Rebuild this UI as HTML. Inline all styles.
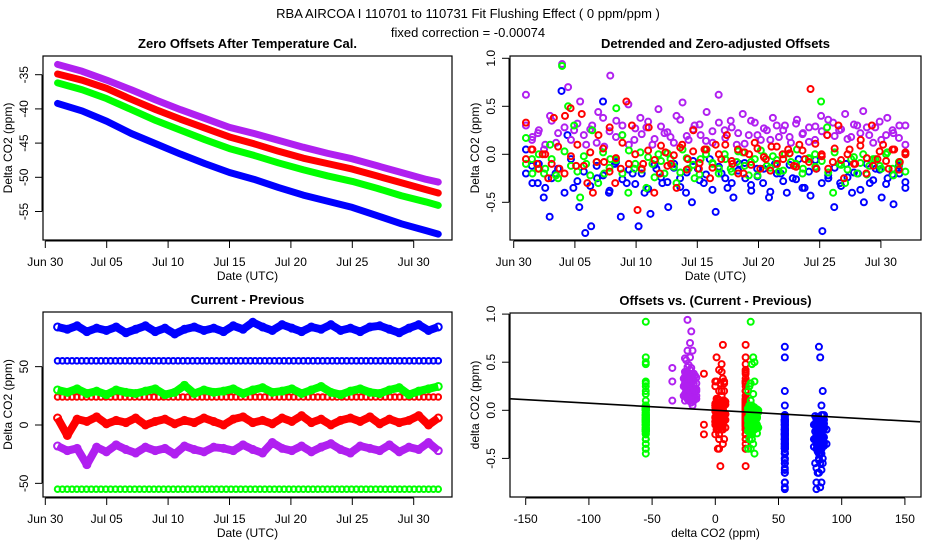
<!DOCTYPE html>
<html><head><meta charset="utf-8"><style>
body{margin:0;background:#fff}
svg{display:block;font-family:"Liberation Sans",sans-serif}
</style></head><body>
<svg id="c" width="936" height="540" viewBox="0 0 936 540" xmlns="http://www.w3.org/2000/svg">
<rect width="936" height="540" fill="#fff"/>
<text x="468" y="18" text-anchor="middle" font-size="13">RBA   AIRCOA I   110701 to 110731   Fit Flushing Effect ( 0 ppm/ppm )</text>
<text x="468" y="37" text-anchor="middle" font-size="13">fixed correction = -0.00074</text>
</svg>
<script>
// ---- Panel 1: Zero offsets (values at days) ----
const p1Days = [1,3,5,7,9,11,13,15,17,19,21,23,25,27,29,31,32];
const p1Blue = [-39.2,-40.3,-41.8,-43.6,-45.1,-46.6,-48.0,-49.3,-50.3,-51.5,-52.6,-53.5,-54.4,-55.6,-56.8,-57.8,-58.3];
const p1Green = [-36.2,-37.2,-38.5,-40.1,-41.7,-43.1,-44.5,-45.8,-46.8,-47.9,-48.9,-49.8,-50.6,-51.6,-52.7,-53.6,-54.1];
const p1Red = [-34.9,-35.8,-37.0,-38.6,-40.1,-41.5,-42.8,-44.1,-45.1,-46.2,-47.2,-48.0,-48.8,-49.8,-50.8,-51.8,-52.3];
const p1Purple = [-33.5,-34.5,-35.8,-37.2,-38.7,-40.1,-41.4,-42.7,-43.6,-44.6,-45.6,-46.5,-47.3,-48.3,-49.3,-50.3,-50.7];
const p1YTicks = [-35,-40,-45,-50,-55];
const dateTicks = [0,5,10,15,20,25,30];
const dateTickLabels = ["Jun 30","Jul 05","Jul 10","Jul 15","Jul 20","Jul 25","Jul 30"];
// ---- Panel 2: detrended offsets ----
const p2Purple = [0.62,0.15,0.22,0.05,0.40,0.12,0.94,0.70,0.25,0.55,0.10,0.30,0.44,0.08,0.82,0.35,0.20,0.52,0.15,0.38,0.28,0.10,0.47,0.22,0.18,0.40,0.54,0.15,0.30,0.20,0.44,0.12,0.62,0.25,0.35,0.10,0.42,0.20,0.33,0.15,0.25,0.38,0.18,0.30,0.12,0.36,0.22,0.28,0.15,0.40,0.20,0.33,0.25,0.42,0.18,0.30,0.45,0.20,0.28,0.15,0.38,0.22,0.30,0.10];
const p2PurpleB = [0.30,0.18,0.25,0.10,0.35,0.22,0.28,0.15,0.32,0.20,0.26,0.12,0.38,0.24,0.18,0.30,0.10,0.27,0.21,0.34,0.16,0.29,0.23,0.12,0.36,0.19,0.26,0.31,0.14,0.24,0.33,0.17,0.28,0.22,0.11,0.35,0.20,0.27,0.15,0.30,0.25,0.18,0.32,0.21,0.13,0.29,0.24,0.36,0.19,0.26,0.16,0.31,0.22,0.28,0.12,0.34,0.20,0.25,0.17,0.30];
const p2Green = [0.17,-0.05,-0.15,-0.20,0.10,-0.22,0.92,0.50,0.30,-0.45,-0.10,0.25,-0.30,-0.20,-0.05,0.48,0.20,-0.40,-0.15,0.02,-0.35,-0.10,0.00,-0.20,-0.05,-0.30,0.05,-0.15,-0.25,-0.05,0.05,-0.10,-0.20,0.00,-0.15,-0.08,0.02,-0.22,-0.05,0.04,-0.12,-0.02,-0.18,0.00,-0.08,0.05,-0.15,-0.05,0.00,0.55,0.28,-0.40,-0.10,-0.30,-0.05,-0.20,0.00,-0.12,-0.05,-0.15,0.02,-0.22,-0.10,0.00];
const p2GreenB = [-0.10,-0.20,0.00,-0.15,-0.05,-0.25,0.03,-0.12,-0.18,-0.02,-0.22,-0.08,0.02,-0.14,-0.06,-0.20,0.04,-0.10,-0.16,-0.03,-0.24,-0.07,0.01,-0.13,-0.19,-0.04,-0.11,-0.21,0.00,-0.09,-0.15,-0.05,-0.18,0.03,-0.12,-0.08,-0.22,-0.02,-0.14,-0.06,-0.17,0.01,-0.10,-0.20,-0.04,-0.13,-0.07,-0.19,0.02,-0.11,-0.16,-0.03,-0.09,-0.21,-0.05,-0.12,0.00,-0.15,-0.08,-0.18];
const p2Red = [0.33,0.05,-0.10,0.00,-0.25,0.38,-0.15,0.40,0.48,-0.12,0.42,-0.30,-0.40,0.20,-0.08,0.28,-0.30,-0.15,0.55,0.30,-0.58,-0.10,0.28,-0.40,-0.20,0.02,-0.10,-0.35,0.10,-0.05,0.25,-0.15,0.05,-0.25,0.10,-0.05,0.20,-0.10,0.05,-0.20,0.00,0.12,-0.15,-0.05,0.08,-0.10,0.00,0.05,-0.12,0.10,-0.05,0.68,-0.15,0.00,0.20,-0.08,0.30,-0.25,0.05,-0.10,0.15,-0.20,0.30,-0.05,0.10,-0.15,0.05,-0.08,0.00];
const p2RedB = [-0.05,0.05,-0.15,0.00,-0.10,0.08,-0.20,-0.02,0.10,-0.12,0.02,-0.08,0.06,-0.18,-0.04,0.12,-0.10,0.00,-0.15,0.04,-0.06,0.09,-0.12,-0.01,0.07,-0.16,0.03,-0.09,0.05,-0.14,0.00,0.10,-0.07,-0.20,0.02,-0.11,0.06,-0.03,-0.17,0.08,-0.05,0.01,-0.13,0.04,-0.08,0.11,-0.02,-0.15,0.06,-0.06,0.00,-0.10,0.09,-0.04,-0.12,0.03,-0.07,0.05,-0.16,0.02];
const p2Blue = [0.05,-0.12,-0.30,-0.45,-0.65,-0.20,0.66,0.20,-0.35,-0.55,-0.82,-0.75,-0.25,0.55,-0.40,-0.10,-0.65,-0.30,-0.20,-0.75,-0.40,-0.62,-0.15,-0.30,-0.55,-0.10,-0.25,-0.40,-0.50,-0.15,-0.30,-0.05,-0.60,-0.20,-0.35,-0.45,-0.10,-0.25,-0.38,-0.15,-0.30,-0.45,-0.10,-0.20,-0.40,-0.25,-0.05,-0.35,-0.43,-0.15,-0.80,-0.25,-0.55,-0.30,-0.10,-0.40,-0.20,-0.50,-0.30,-0.15,-0.45,-0.25,-0.52,-0.20,-0.35];
const p2BlueB = [-0.20,-0.30,-0.10,-0.35,-0.25,-0.15,-0.40,-0.05,-0.28,-0.18,-0.33,-0.12,-0.22,-0.38,-0.08,-0.26,-0.16,-0.31,-0.20,-0.36,-0.11,-0.24,-0.29,-0.14,-0.34,-0.19,-0.07,-0.27,-0.21,-0.37,-0.13,-0.25,-0.30,-0.17,-0.09,-0.32,-0.23,-0.15,-0.39,-0.20,-0.28,-0.11,-0.26,-0.35,-0.18,-0.06,-0.30,-0.22,-0.14,-0.33,-0.24,-0.19,-0.37,-0.10,-0.27,-0.16,-0.31,-0.21,-0.12,-0.29];
const p2YTicks = [1.0,0.5,0.0,-0.5];
const p2YLabels = ["1.0","0.5","0.0","-0.5"];
// ---- Panel 3: current - previous ----
const p3Blue = [84,82,85,80,83,81,84,79,82,85,80,83,78,82,84,81,83,80,85,82,88,84,81,86,83,80,84,82,86,81,83,80,84,85,82,79,83,86,81,84];
const p3Green = [30,28,31,27,29,26,30,28,27,29,31,26,28,34,27,30,28,29,31,27,30,32,28,29,31,27,30,33,28,26,29,31,28,27,30,32,26,29,31,33];
const p3Red = [6,-9,5,3,7,1,4,2,6,0,3,5,1,4,2,6,3,0,5,7,2,4,1,6,3,8,2,5,0,4,6,3,7,1,5,2,4,8,0,6];
const p3Purple = [-18,-22,-20,-34,-19,-23,-17,-21,-24,-19,-22,-20,-25,-18,-21,-23,-19,-20,-22,-17,-21,-24,-15,-20,-22,-18,-23,-19,-16,-21,-24,-18,-20,-22,-17,-23,-19,-21,-15,-22];
const p3BlueConst = 55, p3RedConst = 24, p3GreenConst = -55;
const p3YTicks = [50,0,-50];
// ---- Panel 4 ----
const p4XTicks = [-150,-100,-50,0,50,100,150];
const fitSlope = -0.00074;
const fitIntercept = 0;

const C = {blue:"#0000ff", green:"#00ff00", red:"#ff0000", purple:"#b020f0"};
const svg = document.getElementById('c');
const NS = "http://www.w3.org/2000/svg";
function mk(tag, attrs, parent){const e=document.createElementNS(NS,tag);for(const k in attrs)e.setAttribute(k,attrs[k]);(parent||svg).appendChild(e);return e;}

function frame(g, L, R, T, B, title, xlab, ylab, xt, xtl, xs, yt, ytl, ys){
  const box = mk('rect',{x:L,y:T,width:R-L,height:B-T,fill:'none',stroke:'#000','stroke-width':1.2},g);
  
  
  const t = mk('text',{x:(L+R)/2,y:T-8,'text-anchor':'middle','font-size':13,'font-weight':'bold'},g);
  t.textContent = title;
  
  
  const ax = mk('g',{},g);
  
  
  const x0 = xs(xt[0]), x1 = xs(xt[xt.length-1]);
  mk('line',{x1:x0,x2:x1,y1:B+1,y2:B+1,stroke:'#000'},ax);
  xt.forEach((v,i)=>{const x=xs(v);mk('line',{x1:x,x2:x,y1:B+1,y2:B+8,stroke:'#000'},ax);
    const tl=mk('text',{x:x,y:B+26,'text-anchor':'middle','font-size':12},ax);tl.textContent=xtl[i];
    
    });
  const xl = mk('text',{x:(L+R)/2,y:B+40,'text-anchor':'middle','font-size':12},g);
  xl.textContent = xlab;
  
  
  const ay = mk('g',{},g);
  
  
  const ya = ys(yt[0]), yb = ys(yt[yt.length-1]);
  mk('line',{x1:L-1,x2:L-1,y1:ya,y2:yb,stroke:'#000'},ay);
  yt.forEach((v,i)=>{const y=ys(v);mk('line',{x1:L-1,x2:L-8,y1:y,y2:y,stroke:'#000'},ay);
    const tl=mk('text',{x:L-15,y:y,'text-anchor':'middle','font-size':12,transform:`rotate(-90 ${L-15} ${y})`},ay);tl.textContent=ytl[i];
    
    });
  const yl = mk('text',{x:L-31,y:(T+B)/2,'text-anchor':'middle','font-size':12,transform:`rotate(-90 ${L-31} ${(T+B)/2})`},g);
  yl.textContent = ylab;
  
  
}
function circles(g, xs, ys, color, name, r){
  const s = mk('g',{fill:'none',stroke:color,'stroke-width':2},g);
  
  
  for(let i=0;i<xs.length;i++){const c=mk('circle',{cx:xs[i],cy:ys[i],r:r||3},s);
    
    }
  return s;
}
function daysFor(n){const d=[];for(let i=0;i<n;i++)d.push(1+31*i/(n-1));return d;}

// Panel 1
(function(){
  const L=43,R=452,T=56,B=240;
  const xs=d=>45.3+d*12.28, ys=v=>74.7+(-35-v)*6.84;
  const g=mk('g',{});
  
  
  frame(g,L,R,T,B,"Zero Offsets After Temperature Cal.","Date (UTC)","Delta CO2 (ppm)",dateTicks,dateTickLabels,xs,p1YTicks,p1YTicks.map(String),ys);
  [[p1Blue,C.blue,'blue-series'],[p1Green,C.green,'green-series'],[p1Red,C.red,'red-series'],[p1Purple,C.purple,'purple-series']].forEach(([arr,col,nm])=>{
    const pl=mk('polyline',{points:arr.map((v,i)=>xs(p1Days[i])+','+ys(v)).join(' '),fill:'none',stroke:col,'stroke-width':7,'stroke-linejoin':'round','stroke-linecap':'round'},g);
    
    
  });
})();

// Panel 2
(function(){
  const L=510,R=921,T=56,B=240;
  const xs=d=>513.7+d*12.24, ys=v=>154.3-v*96;
  const g=mk('g',{});
  
  
  frame(g,L,R,T,B,"Detrended and Zero-adjusted Offsets","Date (UTC)","Delta CO2 (ppm)",dateTicks,dateTickLabels,xs,p2YTicks,p2YLabels,ys);
  [[p2Blue,C.blue,'blue-points'],[p2BlueB,C.blue,'blue-points-b'],[p2Purple,C.purple,'purple-points'],[p2PurpleB,C.purple,'purple-points-b'],[p2Green,C.green,'green-points'],[p2GreenB,C.green,'green-points-b'],[p2Red,C.red,'red-points'],[p2RedB,C.red,'red-points-b']].forEach(([arr,col,nm])=>{
    const d=daysFor(arr.length);
    circles(g,d.map(xs),arr.map(ys),col,nm,3);
  });
})();

// Panel 3
(function(){
  const L=43,R=452,T=312,B=497;
  const xs=d=>45.3+d*12.28, ys=v=>425-v*1.167;
  const g=mk('g',{});
  
  
  frame(g,L,R,T,B,"Current - Previous","Date (UTC)","Delta CO2 (ppm)",dateTicks,dateTickLabels,xs,p3YTicks,p3YTicks.map(String),ys);
  const nC=80, dC=daysFor(nC);
  [[p3BlueConst,C.blue,'blue-constant-points'],[p3RedConst,C.red,'red-constant-points'],[p3GreenConst,C.green,'green-constant-points']].forEach(([v,col,nm])=>{
    circles(g,dC.map(xs),dC.map(()=>ys(v)),col,nm,2.8);
  });
  [[p3Blue,C.blue,'blue-points'],[p3Green,C.green,'green-points'],[p3Red,C.red,'red-points'],[p3Purple,C.purple,'purple-points']].forEach(([arr,col,nm])=>{
    const d=daysFor(arr.length);
    const pl=mk('polyline',{points:arr.map((v,i)=>xs(d[i])+','+ys(v)).join(' '),fill:'none',stroke:col,'stroke-width':8,'stroke-linejoin':'round'},g);
    
    
    circles(g,d.map(xs),arr.map(ys),col,nm,3.5);
  });
})();

// Panel 4
(function(){
  const L=510,R=921,T=313,B=497;
  const xs=v=>715.3+v*1.264, ys=v=>410.3-v*96.2;
  const g=mk('g',{});
  
  
  frame(g,L,R,T,B,"Offsets vs. (Current - Previous)","delta CO2 (ppm)","delta CO2 (ppm)",p4XTicks,p4XTicks.map(String),xs,p2YTicks,p2YLabels,ys);
  const pick=(src,n)=>{const o=[];for(let i=0;i<n;i++)o.push(src[Math.floor(i*src.length/n)]);return o;};
  const G=p2Green.concat(p2GreenB), P=p2Purple.concat(p2PurpleB), Rd=p2Red.concat(p2RedB), Bl=p2Blue.concat(p2BlueB);
  const groups=[
    [p3GreenConst,null,G,C.green,'green-constant-column'],
    [null,p3Purple,P,C.purple,'purple-column'],
    [null,p3Red,Rd,C.red,'red-varying-column'],
    [p3RedConst,null,Rd,C.red,'red-constant-column'],
    [null,p3Green,G,C.green,'green-varying-column'],
    [p3BlueConst,null,Bl,C.blue,'blue-constant-column'],
    [null,p3Blue,Bl,C.blue,'blue-varying-column']];
  groups.forEach(([cst,vr,ys2,col,nm])=>{
    const xv = cst!==null ? ys2.map(()=>cst) : pick(vr,ys2.length);
    circles(g,xv.map(xs),ys2.map(ys),col,nm,3);
  });
  const x0=-162,x1=162;
  const fl=mk('line',{x1:xs(x0),y1:ys(fitIntercept+fitSlope*x0),x2:xs(x1),y2:ys(fitIntercept+fitSlope*x1),stroke:'#000','stroke-width':1.6},g);
  
  
})();
</script>
</body></html>
